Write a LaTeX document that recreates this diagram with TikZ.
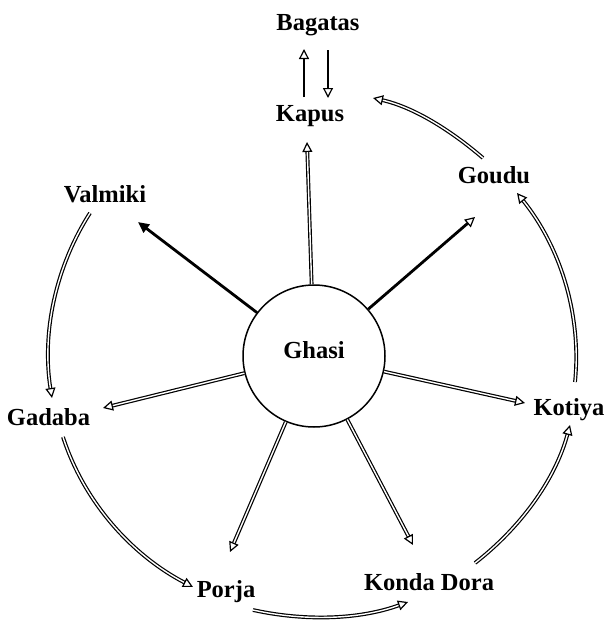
\documentclass[tikz,border=0pt]{standalone}
\usepackage{fontspec}
\setmainfont{Liberation Serif}
\usetikzlibrary{arrows.meta}
\begin{document}
\begin{tikzpicture}[x=1pt,y=-1pt,
  lbl/.style={font=\fontsize{24.5}{28}\selectfont\bfseries, inner sep=0pt, anchor=base},
  tipopen/.style={-{Triangle[open,length=10pt,width=10pt,line width=1.2pt]}},
  tipfill/.style={-{Triangle[length=11pt,width=10pt]}},
  dbl/.style={draw=black, line width=1.2pt, double=white, double distance=1.4pt, tipopen},
  sol/.style={draw=black, line width=2.8pt, tipopen},
]
\useasboundingbox (0,0) rectangle (610,624);
% nodes
\node[lbl] (bag) at (318,30) {Bagatas};
\node[lbl] (kap) at (310,121) {Kapus};
\node[lbl] (val) at (105,202) {Valmiki};
\node[lbl] (gou) at (494,183) {Goudu};
\node[lbl] (gad) at (48.5,425) {Gadaba};
\node[lbl] (kot) at (569,415) {Kotiya};
\node[lbl] (por) at (226,597) {Porja};
\node[lbl] (kon) at (429,590) {Konda Dora};
\node[draw, circle, line width=1.5pt, minimum size=142pt, inner sep=0pt,
      font=\fontsize{24.5}{28}\selectfont\bfseries] (gha) at (314,356)
      {\raisebox{-2pt}[0pt][0pt]{Ghasi}};
% Kapus <-> Bagatas
\draw[sol] ([shift={(-6,-24)}]kap.base) -- ([shift={(-14,19)}]bag.base);
\draw[sol] ([shift={(10,20)}]bag.base) -- ([shift={(18,-23)}]kap.base);
% spokes
\draw[dbl] (gha) -- ([shift={(-3,21)}]kap.base);
\draw[draw=black, line width=2.8pt, tipfill] (gha) -- ([shift={(33,20)}]val.base);
\draw[sol] (gha) -- ([shift={(-19,34)}]gou.base);
\draw[dbl] (gha) -- ([shift={(54.5,-17)}]gad.base);
\draw[dbl] (gha) -- ([shift={(-44,-12)}]kot.base);
\draw[dbl] (gha) -- ([shift={(4,-45)}]por.base);
\draw[dbl] (gha) -- ([shift={(-16,-45)}]kon.base);
% outer arcs
\draw[dbl] ([shift={(-15,11)}]val.base) .. controls (55.0,267.7) and (41.7,333.8) .. ([shift={(3.5,-27)}]gad.base);
\draw[dbl] ([shift={(14.5,12)}]gad.base) .. controls (84.1,502.4) and (132.1,555.2) .. ([shift={(-33,-10)}]por.base);
\draw[dbl] ([shift={(27,13)}]por.base) .. controls (304.3,621.3) and (358.7,619.8) .. ([shift={(-21,12)}]kon.base);
\draw[dbl] ([shift={(46,-27)}]kon.base) .. controls (520.1,527.9) and (555.1,480.2) .. ([shift={(1,10)}]kot.base);
\draw[dbl] ([shift={(6,-33)}]kot.base) .. controls (581.8,313.9) and (559.9,246.3) .. ([shift={(23,10)}]gou.base);
\draw[dbl] ([shift={(-11,-25)}]gou.base) .. controls (450.9,130.5) and (414.2,107.4) .. ([shift={(63,-23)}]kap.base);
\end{tikzpicture}
\end{document}
